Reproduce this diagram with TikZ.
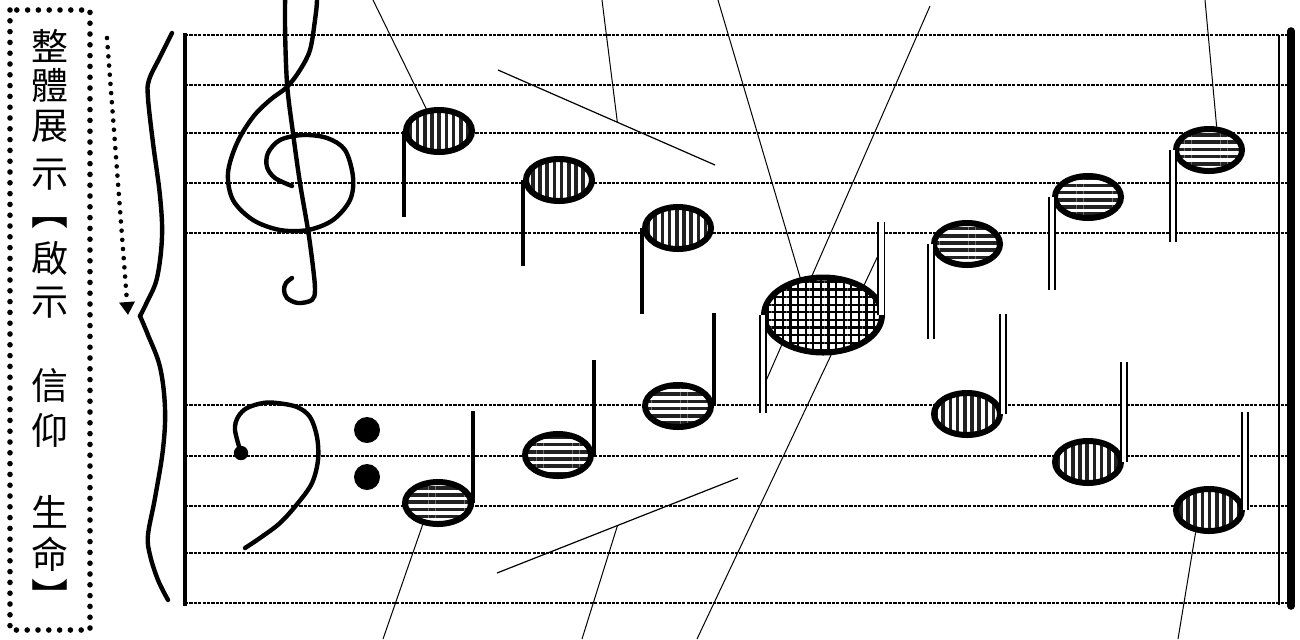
\documentclass[tikz,border=0pt]{standalone}
\usepackage{fontspec}
\newfontfamily\cjkfont{Noto Sans CJK TC}
\usetikzlibrary{shapes.geometric,patterns.meta,arrows.meta,calc}
\definecolor{stripegray}{HTML}{222222}

\tikzset{
  staffline/.style={line width=0.8pt, dash pattern=on 1.6pt off 0.6pt},
  notehead/.style={ellipse, draw, line width=3pt, inner sep=0pt,
    minimum width=33pt, minimum height=21pt, preaction={fill=white}},
  bignote/.style={notehead, minimum width=59pt, minimum height=37.5pt},
  vstripes/.style={pattern={Lines[angle=90,distance=3.6pt,line width=1.8pt]}, pattern color=stripegray},
  hstripes/.style={pattern={Lines[angle=0,distance=3.6pt,line width=1.8pt]}, pattern color=stripegray},
  gridfill/.style={pattern={Hatch[angle=0,distance=3.8pt,line width=1.1pt]}, pattern color=black},
  stem/.style={line width=2.2pt},
  twinstem/.style={double, double distance=2.4pt, line width=0.75pt},
  callout/.style={line width=0.5pt},
  slurline/.style={line width=0.6pt},
  clefline/.style={line width=2.2pt, line cap=round, line join=round},
  dotbox/.style={line width=2.8pt, dash pattern=on 0pt off 5.4pt, line cap=round},
  dotarrow/.style={line width=2.3pt, dash pattern=on 0pt off 4.6pt, line cap=round,
    -{Triangle[length=6.5pt,width=7.5pt]}},
  cjkchar/.style={font=\cjkfont\fontsize{18.5}{18.5}\selectfont, inner sep=0pt},
}

\begin{document}
\begin{tikzpicture}[x=0.5pt, y=-0.5pt]
\useasboundingbox (0,0) rectangle (1300,639);

% caption at the left
\draw[dotbox] (10,10) rectangle (90,630);
\foreach \ch/\yy [count=\i] in {整/46,體/85,展/126,示/175,︻/223,啟/258,示/303,信/385,仰/430,生/512,命/554,︼/595}
  \node[cjkchar] (ch\i) at (50,\yy) {\ch};
\coordinate (arrS) at (107,38);
\coordinate (arrE) at (128,315);
\draw[dotarrow] (arrS) -- (arrE);

% brace and bars
\draw[clefline] plot[smooth, tension=0.6] coordinates {(172,33) (160,57) (149,80) (148,98) (153,143) (160,196) (162,237) (157,278) (147,302) (140,316)};
\draw[clefline] plot[smooth, tension=0.6] coordinates {(140,316) (148,335) (160,367) (165,408) (163,449) (155,498) (148,535) (150,555) (158,580) (168,600)};
\draw[line width=2.2pt] (185,33) -- (185,606);
\draw[line width=0.8pt] (1279,35) -- (1279,605);
\draw[line width=3.8pt, line cap=round] (1291,31) -- (1291,606);

\foreach \yy in {35,85,133,183,233,405,456,506,553,603}
  \draw[staffline] (185,\yy) -- (1289,\yy);

% clefs
\draw[clefline] plot[smooth, tension=0.55] coordinates {(292,278) (286,283) (284,290) (287,298) (298,303) (312,300) (315,290) (313,267) (308,230) (300,183) (293,133) (287,83) (285,20) (287,-10) (301,-22) (315,-10) (317,0) (315,20) (310,50) (300,70) (287,87) (270,100) (253,117) (237,143) (228,173) (233,200) (253,220) (280,230) (308,230) (333,220) (350,200) (353,177) (345,150) (327,138) (303,135) (280,140) (268,153) (267,167) (275,178) (292,186)};
\draw[clefline] plot[smooth, tension=0.55] coordinates {(241,453) (235,430) (238,417) (247,408) (263,403) (277,403) (297,407) (310,417) (317,437) (318,460) (312,483) (298,503) (280,523) (260,538) (245,548)};
\fill (241,453) circle[radius=3.6pt];
\fill (367,430) circle[radius=6.5pt];
\fill (367,477) circle[radius=6.5pt];

% slurs
\coordinate (slA) at (498,70);
\coordinate (slB) at (715,165);
\coordinate (slC) at (497,573);
\coordinate (slD) at (738,478);
\draw[slurline] (slA) -- (slB);
\draw[slurline] (slC) -- (slD);

% lines running under the big note
\coordinate (cg2) at (930,6);
\coordinate (cg2e) at (762,390);
\coordinate (cg3) at (697,639);
\coordinate (cg3e) at (883,245);
\draw[callout] (cg2) -- (cg2e);
\draw[callout] (cg3) -- (cg3e);

% notes
\node[notehead, vstripes] (t1) at (439,131) {};
\node[notehead, vstripes] (t2) at (559,180) {};
\node[notehead, vstripes] (t3) at (678,228) {};
\draw[stem] (t1.west) -- ++(0,86);
\draw[stem] (t2.west) -- ++(0,86);
\draw[stem] (t3.west) -- ++(0,86);

\node[notehead, hstripes] (b1) at (438,503) {};
\node[notehead, hstripes] (b2) at (558,455) {};
\node[notehead, hstripes] (b3) at (678,406) {};
\draw[stem] (b1.east) -- ++(0,-92);
\draw[stem] (b2.east) -- ++(0,-95);
\draw[stem] (b3.east) -- ++(0,-93);

\node[bignote, gridfill] (g) at (823,315) {};
\draw[twinstem] (g.west) -- ++(0,98);
\draw[twinstem] ($(g.east)+(-2,0)$) -- ++(0,-93);

\node[notehead, hstripes] (t5) at (967,244) {};
\node[notehead, hstripes] (t6) at (1088,197) {};
\node[notehead, hstripes] (t7) at (1209,150) {};
\draw[twinstem] (t5.west) -- ++(0,95);
\draw[twinstem] (t6.west) -- ++(0,93);
\draw[twinstem] (t7.west) -- ++(0,92);

\node[notehead, vstripes] (b4) at (967,414) {};
\node[notehead, vstripes] (b5) at (1088,462) {};
\node[notehead, vstripes] (b6) at (1209,510) {};
\draw[twinstem] (b4.east) -- ++(0,-100);
\draw[twinstem] (b5.east) -- ++(0,-100);
\draw[twinstem] (b6.east) -- ++(0,-98);

% callouts
\coordinate (ct1) at (373,0);
\coordinate (cs1) at (602,0);
\coordinate (cg1) at (718,0);
\coordinate (ct7) at (1205,0);
\coordinate (cb1) at (383,639);
\coordinate (cs2) at (582,639);
\coordinate (cb6) at (1178,639);
\draw[callout] (ct1) -- (t1.120);
\draw[callout] (cs1) -- ($(slA)!0.55!(slB)$);
\draw[callout] (cg1) -- (g.122);
\draw[callout] (ct7) -- (t7.72);
\draw[callout] (cb1) -- (b1.234);
\draw[callout] (cs2) -- ($(slC)!0.5!(slD)$);
\draw[callout] (cb6) -- (b6.239);
\end{tikzpicture}
\end{document}
